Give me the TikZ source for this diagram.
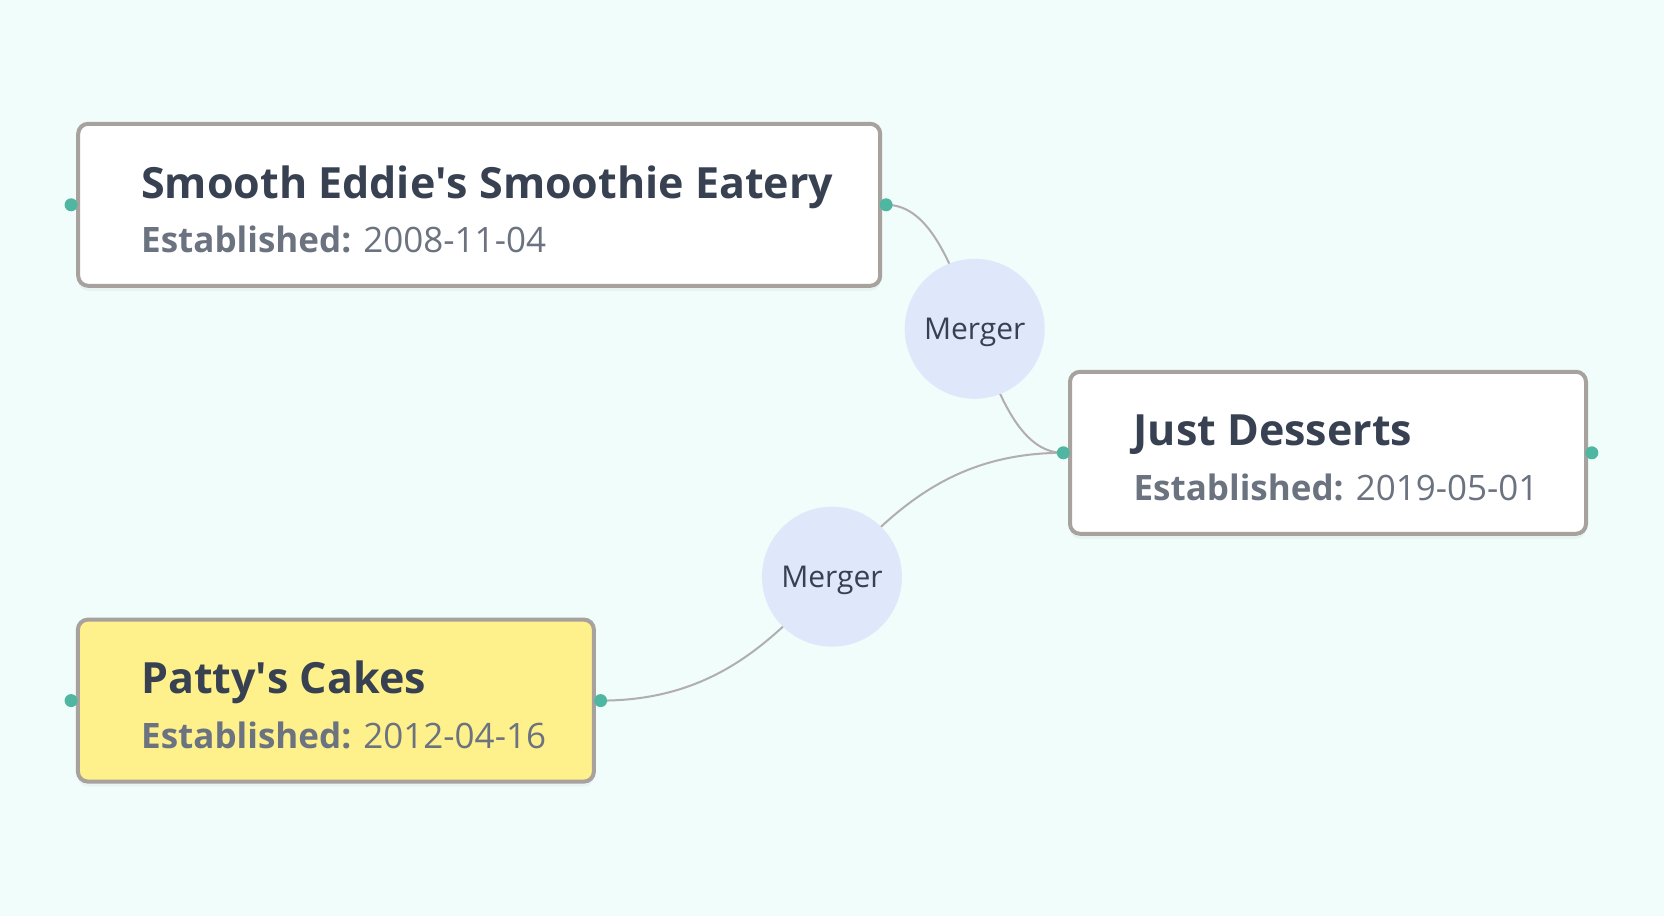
\documentclass[tikz,border=0pt]{standalone}
\usepackage{fontspec}
\setmainfont{Open Sans}
\usetikzlibrary{positioning}
\usetikzlibrary{shadows}
\definecolor{bgmint}{HTML}{F0FDFA}
\definecolor{cardline}{HTML}{A8A29E}
\definecolor{titlegray}{HTML}{374151}
\definecolor{subgray}{HTML}{6B7280}
\definecolor{cakeyellow}{HTML}{FEF08A}
\definecolor{mergeblue}{HTML}{DFE8FB}
\definecolor{handleteal}{HTML}{4FB6A2}
\definecolor{edgegray}{HTML}{B1ADB0}
\pgfdeclarelayer{bg}
\pgfdeclarelayer{edges}
\pgfsetlayers{bg,edges,main}

\begin{document}
\begin{tikzpicture}[x=1pt, y=-1pt,
    card/.style={draw=cardline, line width=4pt, rounded corners=10pt, fill=white, inner sep=0pt,
        minimum height=162pt, drop shadow={shadow xshift=0pt, shadow yshift=-5pt, opacity=0.07}},
    title/.style={anchor=base west, inner sep=0pt, text=titlegray, font=\fontsize{43}{50}\selectfont\bfseries},
    since/.style={anchor=base west, inner sep=0pt, text=subgray, font=\fontsize{35}{40}\selectfont},
    handle/.style={circle, fill=handleteal, minimum size=13pt, inner sep=0pt},
    merger/.style={circle, fill=mergeblue, minimum size=140pt, inner sep=0pt, text depth=0pt, text=titlegray, font=\fontsize{30}{36}\selectfont},
    link/.style={draw=edgegray, line width=2pt}]
    \begin{pgfonlayer}{bg}
        \fill[bgmint] (0,0) rectangle (1664,916);
    \end{pgfonlayer}
    \useasboundingbox (0,0) rectangle (1664,916);

    % companies
    \node[card, minimum width=802pt] (eddie) at (479.2,204.8) {};
    \node[title] (eddie-name) at (141,198.5) {Smooth Eddie\textquotesingle s Smoothie Eatery};
    \node[since] (eddie-date) at (141,252.6) {\textbf{Established:} 2008-11-04};

    \node[card, minimum width=516pt] (desserts) at (1328,452.8) {};
    \node[title] (desserts-name) at (1133.4,445.7) {Just Desserts};
    \node[since] (desserts-date) at (1133.4,500) {\textbf{Established:} 2019-05-01};

    \node[card, fill=cakeyellow, minimum width=516pt] (cakes) at (335.9,700.6) {};
    \node[title] (cakes-name) at (141,693.5) {Patty\textquotesingle s Cakes};
    \node[since] (cakes-date) at (141,748) {\textbf{Established:} 2012-04-16};

    % handles
    \node[handle] (eddie-in) at (71.1,204.8) {};
    \node[handle] (eddie-out) at (886.1,204.8) {};
    \node[handle] (desserts-in) at (1063.3,452.8) {};
    \node[handle] (desserts-out) at (1591.8,452.8) {};
    \node[handle] (cakes-in) at (71.1,700.6) {};
    \node[handle] (cakes-out) at (600.6,700.6) {};

    % mergers
    \begin{pgfonlayer}{edges}
        \draw[link] (eddie-out.center) .. controls +(88.6,0) and +(-88.6,0) .. node[merger, pos=0.5] (merge-eddie) {Merger} (desserts-in.center);
        \draw[link] (cakes-out.center) .. controls +(231.4,0) and +(-231.4,0) .. node[merger, pos=0.5] (merge-cakes) {Merger} (desserts-in.center);
    \end{pgfonlayer}
\end{tikzpicture}
\end{document}
